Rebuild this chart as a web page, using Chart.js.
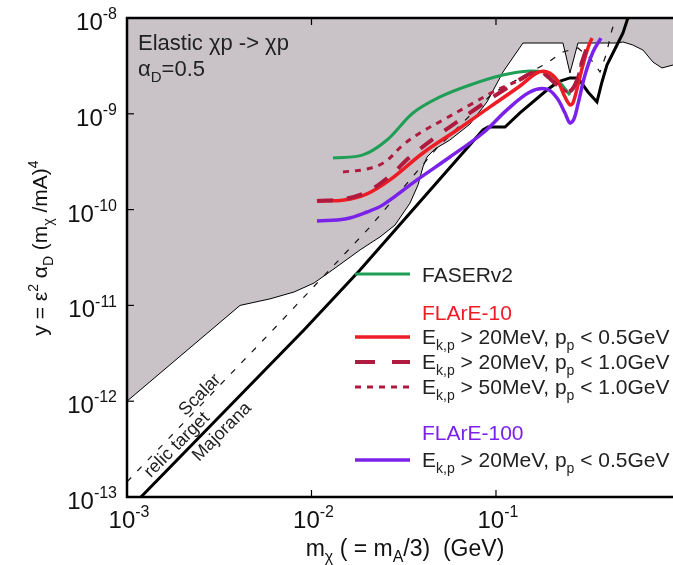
<!DOCTYPE html>
<html>
<head>
<meta charset="utf-8">
<script src="https://cdn.jsdelivr.net/npm/chart.js@4.4.1/dist/chart.umd.min.js"></script>
<style>
  html, body { margin: 0; padding: 0; background: #fff; }
</style>
</head>
<body>
<canvas id="chart" width="673" height="565"></canvas>
<script>
// axis ticks (decades)
const xTicks = [1e-3, 1e-2, 1e-1];
const yTicks = [1e-13, 1e-12, 1e-11, 1e-10, 1e-9, 1e-8];

// excluded region (gray), lower boundary
const excludedX = [0.001, 0.0041, 0.00596, 0.00804, 0.01031, 0.01341, 0.01832, 0.02351, 0.02836, 0.0342, 0.0378, 0.0402, 0.0423, 0.0467, 0.0563, 0.0723, 0.0894, 0.1091, 0.140, 0.2307, 0.2518, 0.2782, 0.4527, 0.488, 0.5527, 0.626, 0.7096, 0.7937, 0.911];
const excludedY = [1.0e-12, 1.0e-11, 1.17e-11, 1.38e-11, 1.71e-11, 2.45e-11, 3.79e-11, 5.18e-11, 6.9e-11, 1.17e-10, 1.81e-10, 2.79e-10, 3.54e-10, 4.3e-10, 5.33e-10, 7.82e-10, 1.33e-9, 2.73e-9, 5.48e-9, 5.48e-9, 2.67e-9, 5.48e-9, 5.48e-9, 5.62e-9, 5.22e-9, 4.63e-9, 3.47e-9, 3.01e-9, 3.23e-9];

// relic targets
const majoranaX = [0.00119, 0.0091, 0.01832, 0.085, 0.0905, 0.1119, 0.1349, 0.189, 0.2168, 0.2518, 0.2782, 0.3152, 0.3526, 0.3754, 0.3995, 0.4252, 0.4527, 0.488, 0.532];
const majoranaY = [1.0e-13, 5.53e-12, 2.34e-11, 6.78e-10, 7.28e-10, 7.28e-10, 1.02e-9, 1.77e-9, 2.15e-9, 2.37e-9, 2.37e-9, 1.69e-9, 1.33e-9, 2.15e-9, 3.23e-9, 4.11e-9, 5.22e-9, 6.97e-9, 1.16e-8];
const scalarX = [0.001, 0.00596, 0.02075, 0.0479, 0.0963, 0.189, 0.2307, 0.2782, 0.3232, 0.3663, 0.3948, 0.4252, 0.4527];
const scalarY = [1.44e-13, 5.15e-12, 6.58e-11, 4.4e-10, 1.65e-9, 3.39e-9, 4.42e-9, 4.87e-9, 3.82e-9, 2.73e-9, 4.11e-9, 7.5e-9, 1.07e-8];

// sensitivity curves
const faserX = [0.01308, 0.019, 0.02566, 0.0355, 0.0497, 0.0723, 0.1091, 0.1528, 0.189, 0.2223, 0.2518];
const faserY = [3.46e-10, 3.72e-10, 5.33e-10, 1.02e-9, 1.5e-9, 2.0e-9, 2.54e-9, 2.8e-9, 2.67e-9, 2.1e-9, 1.57e-9];

const flare10aX = [0.01071, 0.015, 0.02, 0.0266, 0.0402, 0.0615, 0.0928, 0.1349, 0.1668, 0.189, 0.2141, 0.2366, 0.2518, 0.2615, 0.2782, 0.2961, 0.3152, 0.3314];
const flare10aY = [1.23e-10, 1.26e-10, 1.46e-10, 2.04e-10, 3.9e-10, 6.78e-10, 1.18e-9, 1.95e-9, 2.67e-9, 2.73e-9, 2.25e-9, 1.5e-9, 1.24e-9, 1.3e-9, 2.0e-9, 3.23e-9, 4.87e-9, 6.18e-9];

const flare10bX = [0.01071, 0.015, 0.02, 0.0266, 0.0342, 0.0497, 0.0789, 0.1147, 0.1668, 0.189, 0.2141, 0.2456, 0.268, 0.2924, 0.3152, 0.327];
const flare10bY = [1.23e-10, 1.29e-10, 1.53e-10, 2.25e-10, 3.54e-10, 6.15e-10, 1.15e-9, 1.86e-9, 2.8e-9, 2.48e-9, 2.0e-9, 1.69e-9, 2.0e-9, 3.47e-9, 5.22e-9, 6.18e-9];

const flare10cX = [0.01482, 0.02, 0.025, 0.0313, 0.0387, 0.0516, 0.0723, 0.1012, 0.1349, 0.1668, 0.189, 0.2141, 0.2456, 0.268, 0.2924, 0.3152];
const flare10cY = [2.47e-10, 2.65e-10, 3.14e-10, 4.72e-10, 6.31e-10, 8.61e-10, 1.24e-9, 1.77e-9, 2.25e-9, 2.73e-9, 2.48e-9, 2.05e-9, 1.69e-9, 2.0e-9, 3.47e-9, 5.22e-9];

const flare100X = [0.01071, 0.0152, 0.02, 0.0244, 0.0373, 0.0563, 0.085, 0.1147, 0.1528, 0.189, 0.2141, 0.2366, 0.2518, 0.2647, 0.2782, 0.3037, 0.3355, 0.3707];
const flare100Y = [7.6e-11, 7.98e-11, 9.44e-11, 1.12e-10, 2.04e-10, 3.54e-10, 6.3e-10, 1.1e-9, 1.69e-9, 1.81e-9, 1.46e-9, 1.02e-9, 8.02e-10, 8.83e-10, 1.26e-9, 2.54e-9, 4.42e-9, 6.18e-9];

const GREEN = '#1f9e55';
const RED = '#ee1c24';
const DARKRED = '#b01a3e';
const PURPLE = '#7b22ea';
const GRAY = '#c9c3c7';
const FONT = '"Liberation Sans", Arial, sans-serif';

const zip = (xs, ys) => xs.map((x, i) => ({ x: x, y: ys[i] }));

// draw text with sub/superscripts: parts = [[text, 'n'|'sub'|'sup'], ...]
function richWidth(ctx, parts, size) {
    let w = 0;
    parts.forEach(([t, m]) => {
        ctx.font = (m === 'n' ? size : Math.round(size * 0.68)) + 'px ' + FONT;
        w += ctx.measureText(t).width;
    });
    return w;
}
function richText(ctx, parts, x, y, size, align) {
    const w = richWidth(ctx, parts, size);
    let cx = align === 'center' ? x - w / 2 : align === 'right' ? x - w : x;
    ctx.textBaseline = 'alphabetic';
    ctx.textAlign = 'left';
    parts.forEach(([t, m]) => {
        const s = m === 'n' ? size : Math.round(size * 0.68);
        ctx.font = s + 'px ' + FONT;
        let dy = 0;
        if (m === 'sub') dy = size * 0.28;
        if (m === 'sup') dy = -size * 0.45;
        ctx.fillText(t, cx, y + dy);
        cx += ctx.measureText(t).width;
    });
}

const decorations = {
    id: 'decorations',
    beforeDraw(chart) {
        const ctx = chart.ctx;
        ctx.save();
        ctx.fillStyle = '#fff';
        ctx.fillRect(0, 0, chart.width, chart.height);
        ctx.restore();
    },
    afterDatasetsDraw(chart) {
        const ctx = chart.ctx;
        const a = chart.chartArea;
        const xs = chart.scales.x, ys = chart.scales.y;
        ctx.save();

        // frame
        ctx.strokeStyle = '#000';
        ctx.lineWidth = 2.5;
        ctx.beginPath();
        ctx.moveTo(a.right + 2, a.top);
        ctx.lineTo(a.left, a.top);
        ctx.lineTo(a.left, a.bottom);
        ctx.lineTo(a.right + 2, a.bottom);
        ctx.stroke();

        // ticks + labels
        ctx.lineWidth = 1.2;
        ctx.fillStyle = '#111';
        xTicks.forEach(v => {
            const px = xs.getPixelForValue(v);
            ctx.beginPath();
            ctx.moveTo(px, a.bottom); ctx.lineTo(px, a.bottom - 7);
            ctx.moveTo(px, a.top); ctx.lineTo(px, a.top + 7);
            ctx.stroke();
            const e = Math.round(Math.log10(v));
            richText(ctx, [['10', 'n'], [String(e), 'sup']], px + 2, a.bottom + 31, 24, 'center');
        });
        yTicks.forEach(v => {
            const py = ys.getPixelForValue(v);
            ctx.beginPath();
            ctx.moveTo(a.left, py); ctx.lineTo(a.left + 7, py);
            ctx.stroke();
            const e = Math.round(Math.log10(v));
            richText(ctx, [['10', 'n'], [String(e), 'sup']], 117, py + 12, 24, 'right');
        });

        // axis titles
        richText(ctx, [['m', 'n'], ['χ', 'sub'], [' ( = m', 'n'], ['A', 'sub'], ['/3)  (GeV)', 'n']], 405, 556, 23, 'center');
        ctx.save();
        ctx.translate(47, 248);
        ctx.rotate(-Math.PI / 2);
        richText(ctx, [['y = ε', 'n'], ['2', 'sup'], [' α', 'n'], ['D', 'sub'], [' (m', 'n'], ['χ', 'sub'], [' /mA)', 'n'], ['4', 'sup']], 0, 0, 21, 'center');
        ctx.restore();

        // corner annotation
        ctx.fillStyle = '#222';
        richText(ctx, [['Elastic χp -> χp', 'n']], 138, 50, 22, 'left');
        richText(ctx, [['α', 'n'], ['D', 'sub'], ['=0.5', 'n']], 138, 76, 22, 'left');

        // rotated relic labels
        const rot = (txt, x, y, ang) => {
            ctx.save();
            ctx.translate(x, y);
            ctx.rotate(ang * Math.PI / 180);
            ctx.font = '18px ' + FONT;
            ctx.textAlign = 'center';
            ctx.textBaseline = 'middle';
            ctx.fillStyle = '#222';
            ctx.fillText(txt, 0, 0);
            ctx.restore();
        };
        rot('Scalar', 200, 395, -45);
        rot('relic target', 177, 445, -45);
        rot('Majorana', 222, 432, -45);

        // legend
        const lx0 = 355, lx1 = 410, tx = 422;
        const legLine = (y, color, dash, w) => {
            ctx.save();
            ctx.strokeStyle = color;
            ctx.lineWidth = w;
            ctx.setLineDash(dash);
            ctx.beginPath();
            ctx.moveTo(lx0, y); ctx.lineTo(lx1, y);
            ctx.stroke();
            ctx.restore();
        };
        const eText = (lo, hi, y) => {
            ctx.fillStyle = '#222';
            richText(ctx, [['E', 'n'], ['k,p', 'sub'], [' > ' + lo + ', p', 'n'], ['p', 'sub'], [' < ' + hi, 'n']], tx, y + 7, 21, 'left');
        };
        legLine(274, GREEN, [], 3);
        ctx.fillStyle = '#222';
        richText(ctx, [['FASERv2', 'n']], tx, 282, 21, 'left');
        ctx.fillStyle = RED;
        richText(ctx, [['FLArE-10', 'n']], tx, 320, 21, 'left');
        legLine(337, RED, [], 3.5);
        eText('20MeV', '0.5GeV', 337);
        legLine(362, DARKRED, [20, 17], 4);
        eText('20MeV', '1.0GeV', 362);
        legLine(387, DARKRED, [6, 6], 3);
        eText('50MeV', '1.0GeV', 387);
        ctx.fillStyle = PURPLE;
        richText(ctx, [['FLArE-100', 'n']], tx, 440, 21, 'left');
        legLine(460, PURPLE, [], 3.5);
        eText('20MeV', '0.5GeV', 460);

        ctx.restore();
    }
};

const ctx = document.getElementById('chart').getContext('2d');
const chart = new Chart(ctx, {
    type: 'line',
    data: {
        datasets: [
            { label: 'FLArE-100', data: zip(flare100X, flare100Y), borderColor: PURPLE, borderWidth: 3.5, tension: 0.35, order: 1 },
            { label: 'FLArE-10 20MeV 1.0GeV', data: zip(flare10bX, flare10bY), borderColor: DARKRED, borderWidth: 4, borderDash: [16, 14], tension: 0.35, order: 2 },
            { label: 'FLArE-10 20MeV 0.5GeV', data: zip(flare10aX, flare10aY), borderColor: RED, borderWidth: 3.5, tension: 0.35, order: 3 },
            { label: 'FLArE-10 50MeV 1.0GeV', data: zip(flare10cX, flare10cY), borderColor: DARKRED, borderWidth: 3, borderDash: [6, 6], tension: 0.35, order: 4 },
            { label: 'FASERv2', data: zip(faserX, faserY), borderColor: GREEN, borderWidth: 3, tension: 0.35, order: 5 },
            { label: 'Majorana', data: zip(majoranaX, majoranaY), borderColor: '#000', borderWidth: 3, tension: 0, order: 6 },
            { label: 'Scalar', data: zip(scalarX, scalarY), borderColor: '#111', borderWidth: 1.2, borderDash: [6, 9], tension: 0, order: 7 },
            { label: 'excluded', data: zip(excludedX, excludedY), borderColor: '#000', borderWidth: 1, backgroundColor: GRAY, fill: 'end', tension: 0, order: 8 }
        ]
    },
    options: {
        responsive: false,
        animation: false,
        devicePixelRatio: 1,
        layout: { padding: { left: 127, right: 0, top: 18, bottom: 68 } },
        elements: { point: { radius: 0 } },
        plugins: { legend: { display: false }, tooltip: { enabled: false } },
        scales: {
            x: { type: 'logarithmic', min: 1e-3, max: 0.911, display: false },
            y: { type: 'logarithmic', min: 1e-13, max: 1e-8, display: false }
        }
    },
    plugins: [decorations]
});
</script>
</body>
</html>
